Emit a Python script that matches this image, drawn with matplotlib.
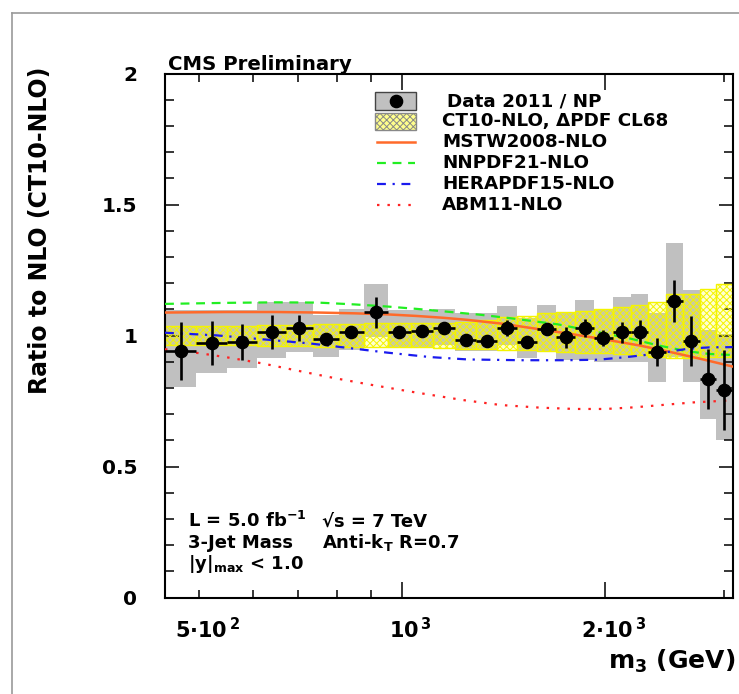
import numpy as np
import matplotlib
matplotlib.use("Agg")
import matplotlib.pyplot as plt
from matplotlib.patches import Rectangle
from matplotlib.lines import Line2D
from matplotlib.ticker import FixedLocator, FixedFormatter, NullFormatter
import matplotlib.transforms as mtransforms

# ---- 3-jet mass bins (GeV) ----
edges = [445, 495, 550, 610, 672, 737, 805, 877, 952, 1030, 1112, 1198, 1287,
         1381, 1480, 1584, 1692, 1806, 1925, 2050, 2180, 2316, 2457, 2605,
         2759, 2919, 3086]

# Data / NP ratio to CT10-NLO with statistical errors
ratio = [0.941, 0.971, 0.976, 1.015, 1.028, 0.988, 1.015, 1.089, 1.015, 1.018,
         1.028, 0.983, 0.979, 1.030, 0.977, 1.025, 0.993, 1.030, 0.990, 1.013,
         1.013, 0.936, 1.132, 0.979, 0.834, 0.792]
stat = [0.112, 0.085, 0.070, 0.065, 0.050, 0.015, 0.012, 0.060, 0.012, 0.012,
        0.012, 0.012, 0.012, 0.030, 0.015, 0.012, 0.040, 0.035, 0.030, 0.040,
        0.045, 0.053, 0.079, 0.094, 0.113, 0.152]

# Total experimental uncertainty band (gray boxes)
sys_lo = [0.805, 0.856, 0.875, 0.915, 0.939, 0.917, 0.945, 0.996, 0.951, 0.951,
          0.964, 0.942, 0.942, 0.964, 0.913, 0.939, 0.907, 0.907, 0.900, 0.900,
          0.900, 0.824, 0.919, 0.824, 0.680, 0.600]
sys_hi = [1.098, 1.098, 1.098, 1.129, 1.129, 1.079, 1.100, 1.197, 1.098, 1.098,
          1.100, 1.085, 1.085, 1.113, 1.066, 1.117, 1.091, 1.136, 1.102, 1.146,
          1.159, 1.087, 1.352, 1.174, 1.021, 1.006]

# CT10-NLO PDF uncertainty (CL68)
ct_lo = [0.965, 0.965, 0.965, 0.962, 0.962, 0.958, 0.958, 0.955, 0.955, 0.955,
         0.952, 0.950, 0.950, 0.945, 0.945, 0.940, 0.937, 0.935, 0.932, 0.930,
         0.927, 0.920, 0.916, 0.916, 0.918, 0.918]
ct_hi = [1.035, 1.035, 1.035, 1.040, 1.040, 1.045, 1.045, 1.050, 1.050, 1.050,
         1.050, 1.052, 1.058, 1.072, 1.075, 1.085, 1.090, 1.095, 1.100, 1.108,
         1.117, 1.129, 1.158, 1.158, 1.177, 1.197]

# Other PDF sets, ratio to CT10-NLO
mstw_m = [445, 550, 650, 750, 850, 950, 1050, 1150, 1250, 1400, 1600, 1800,
          2000, 2250, 2500, 2750, 3086]
mstw = [1.088, 1.090, 1.090, 1.088, 1.085, 1.081, 1.075, 1.068, 1.060, 1.046,
        1.024, 1.004, 0.985, 0.962, 0.937, 0.913, 0.882]

nnpdf_m = [445, 550, 650, 750, 850, 950, 1050, 1180, 1300, 1450, 1700, 1950,
           2150, 2400, 2650, 2850, 3086]
nnpdf = [1.121, 1.125, 1.127, 1.126, 1.119, 1.111, 1.102, 1.090, 1.080, 1.066,
         1.043, 1.013, 0.992, 0.962, 0.940, 0.930, 0.926]

hera_m = [445, 530, 640, 730, 850, 950, 1100, 1250, 1500, 1750, 1950, 2150,
          2400, 2650, 2850, 3086]
hera = [1.011, 1.001, 0.983, 0.970, 0.950, 0.935, 0.918, 0.909, 0.906, 0.906,
        0.908, 0.918, 0.932, 0.950, 0.955, 0.956]

abm_m = [445, 500, 550, 620, 700, 800, 900, 1030, 1230, 1400, 1600, 1800, 2000,
         2200, 2450, 2700, 3086]
abm = [0.948, 0.933, 0.917, 0.894, 0.866, 0.836, 0.812, 0.786, 0.754, 0.735,
       0.725, 0.720, 0.720, 0.726, 0.736, 0.745, 0.753]

x_ticks = [500, 1000, 2000]
x_ticklabels = [r"5$\cdot$10$^{\,2}$", r"10$^{\,3}$", r"2$\cdot$10$^{\,3}$"]
y_ticks = [0, 0.5, 1, 1.5, 2]
y_ticklabels = ["0", "0.5", "1", "1.5", "2"]

legend_labels = ["Data 2011 / NP", "CT10-NLO, \u0394PDF CL68", "MSTW2008-NLO",
                 "NNPDF21-NLO", "HERAPDF15-NLO", "ABM11-NLO"]

# ---- style ----
plt.rcParams['font.family'] = ['DejaVu Sans']
plt.rcParams['font.weight'] = 'bold'
plt.rcParams['mathtext.fontset'] = 'dejavusans'
plt.rcParams['mathtext.default'] = 'bf'
plt.rcParams['hatch.linewidth'] = 0.7

GRAY = '#c0c0c0'
YEL_FACE = (1.0, 1.0, 0.0, 0.18)
YEL_EDGE = '#f4f400'
C_MSTW = '#ff6a2a'
C_NNPDF = '#22ee22'
C_HERA = '#1a1aee'
C_ABM = '#ff2222'
HATCH = 'xxxxx'

W, H = 739, 694
fig = plt.figure(figsize=(W / 100, H / 100), dpi=100)


def fx(px):
    return px / W


def fy(py):
    return 1 - py / H


ax = fig.add_axes([fx(165), fy(597.6), fx(732.5) - fx(165), fy(73.6) - fy(597.6)])
ax.set_xscale('log')
ax.set_xlim(edges[0], edges[-1])
ax.set_ylim(0, 2)

lo = np.array(edges[:-1], dtype=float)
hi = np.array(edges[1:], dtype=float)
centre = np.sqrt(lo * hi)

# gray boxes
for a, b, l, u in zip(lo, hi, sys_lo, sys_hi):
    ax.add_patch(Rectangle((a, l), b - a, u - l, facecolor=GRAY,
                           edgecolor='none', zorder=1))
# yellow hatched boxes
for a, b, l, u in zip(lo, hi, ct_lo, ct_hi):
    ax.add_patch(Rectangle((a, l), b - a, u - l, facecolor=YEL_FACE,
                           edgecolor=YEL_EDGE, hatch=HATCH, lw=1.0,
                           zorder=2))

lw = 1.6
ax.plot(mstw_m, mstw, color=C_MSTW, lw=lw + 0.2, zorder=3)
ax.plot(nnpdf_m, nnpdf, color=C_NNPDF, lw=lw, dashes=(4, 3), zorder=3)
ax.plot(hera_m, hera, color=C_HERA, lw=lw, dashes=(4, 3, 1, 3), zorder=3)
ax.plot(abm_m, abm, color=C_ABM, lw=lw, dashes=(1.1, 3.6), zorder=3)

ax.errorbar(centre, ratio, yerr=stat, xerr=[centre - lo, hi - centre],
            fmt='o', color='black', ms=8.8, elinewidth=1.9, capsize=0,
            zorder=5)

# ---- axes styling ----
for s in ax.spines.values():
    s.set_linewidth(1.5)
ax.xaxis.set_major_locator(FixedLocator(x_ticks))
ax.xaxis.set_major_formatter(FixedFormatter(x_ticklabels))
ax.xaxis.set_minor_locator(FixedLocator([600, 700, 800, 900, 3000]))
ax.xaxis.set_minor_formatter(NullFormatter())
ax.yaxis.set_major_locator(FixedLocator(y_ticks))
ax.yaxis.set_major_formatter(FixedFormatter(y_ticklabels))
ax.yaxis.set_minor_locator(FixedLocator(np.arange(0.1, 2.0, 0.1)))

ax.tick_params(which='both', direction='in', top=True, right=True, width=1.1)
ax.tick_params(axis='x', which='major', length=11.5, pad=14, labelsize=15)
ax.tick_params(axis='x', which='minor', length=5.5)
ax.tick_params(axis='y', which='major', length=10, pad=20, labelsize=14.5)
ax.tick_params(axis='y', which='minor', length=6.5)
# the 500 GeV tick is drawn short
t500 = ax.xaxis.get_major_ticks()[0]
t500.tick1line.set_markersize(5.5)
t500.tick2line.set_markersize(5.5)
offset = mtransforms.ScaledTranslation(8 / 100, 0, fig.dpi_scale_trans)
for lab in ax.get_xticklabels():
    lab.set_transform(lab.get_transform() + offset)

# ---- texts ----
fig.text(fx(168), fy(70), "CMS Preliminary", fontsize=14.2, ha='left',
         va='baseline')
fig.text(fx(40), fy(230), "Ratio to NLO (CT10-NLO)", rotation=90,
         fontsize=17, ha='center', va='center')
fig.text(fx(735), fy(669), r"m$_{3}$ (GeV)", fontsize=18, ha='right',
         va='baseline')

fig.text(fx(188), fy(527), r"L = 5.0 fb$^{-1}$", fontsize=13, va='baseline')
fig.text(fx(322), fy(527), "\u221as = 7 TeV", fontsize=13, va='baseline')
fig.text(fx(188), fy(548), "3-Jet Mass", fontsize=13, va='baseline')
fig.text(fx(322), fy(548), r"Anti-k$_{T}$ R=0.7", fontsize=13, va='baseline')
fig.text(fx(188), fy(569), r"|y|$_{max}$ < 1.0", fontsize=13, va='baseline')

# ---- legend ----
tf = fig.transFigure
x0, x1 = 375, 416
fig.add_artist(Rectangle((fx(x0), fy(110)), fx(x1) - fx(x0), fy(92) - fy(110),
                         transform=tf, facecolor=GRAY, edgecolor='#444444',
                         lw=1.0))
fig.add_artist(Line2D([fx(395.5)], [fy(101)], transform=tf, marker='o',
                      color='black', ms=8.8, ls='none'))
fig.add_artist(Rectangle((fx(x0), fy(130)), fx(x1) - fx(x0), fy(112.5) - fy(130),
                         transform=tf, facecolor=(1, 1, 0, 0.45),
                         edgecolor='#888888', hatch=HATCH, lw=1.0))
fig.add_artist(Line2D([fx(x0 + 2), fx(x1 - 1)], [fy(141.7)] * 2, transform=tf,
                      color=C_MSTW, lw=lw + 0.2))
fig.add_artist(Line2D([fx(x0 + 2), fx(x1 - 1)], [fy(162.5)] * 2, transform=tf,
                      color=C_NNPDF, lw=lw, dashes=(4, 3)))
fig.add_artist(Line2D([fx(x0 + 2), fx(x1 - 1)], [fy(184)] * 2, transform=tf,
                      color=C_HERA, lw=lw, dashes=(4, 3, 1, 3)))
fig.add_artist(Line2D([fx(x0 + 2), fx(x1 - 1)], [fy(205.3)] * 2, transform=tf,
                      color=C_ABM, lw=lw, dashes=(1.1, 3.6)))
leg_y = [101.5, 121, 142, 163, 184, 205]
leg_x = [447, 442, 442, 442, 442, 442]
for lx, ly, txt in zip(leg_x, leg_y, legend_labels):
    fig.text(fx(lx), fy(ly), txt, fontsize=13.2, ha='left', va='center')

# canvas border
fig.add_artist(Line2D([fx(12), fx(12)], [fy(13), 0], transform=tf,
                      color='#9a9a9a', lw=1.2))
fig.add_artist(Line2D([fx(12), 1], [fy(13), fy(13)], transform=tf,
                      color='#9a9a9a', lw=1.2))

fig.savefig("out.png", dpi=100)
